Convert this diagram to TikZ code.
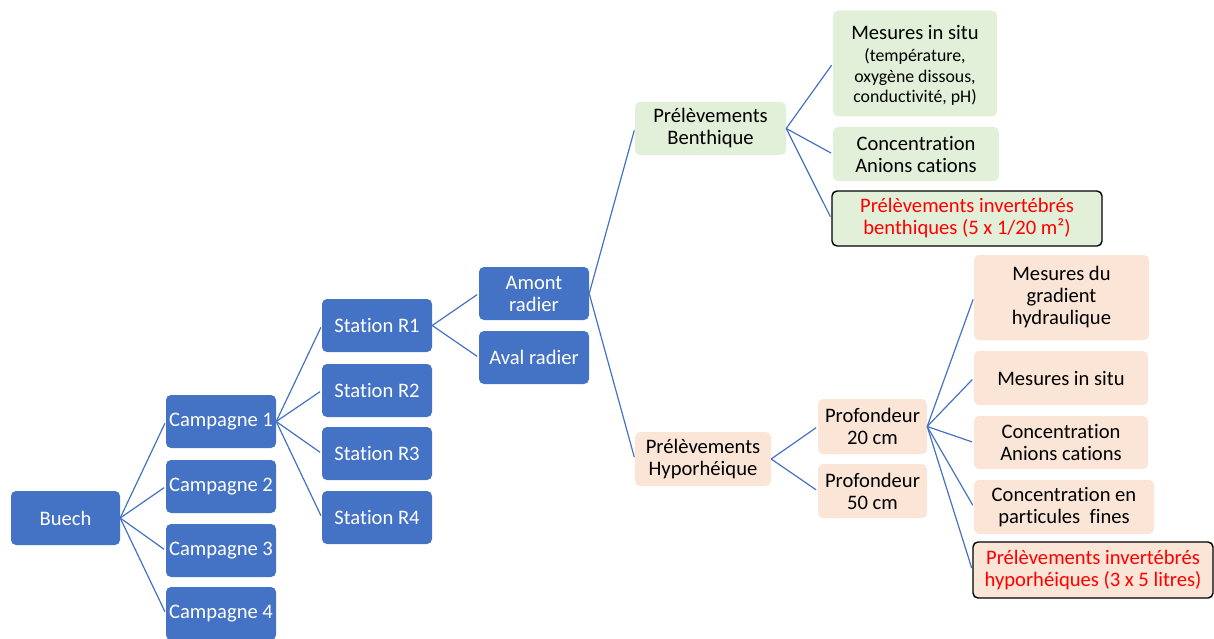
\documentclass[tikz,border=0pt]{standalone}
\usepackage{fontspec}
\setmainfont{Carlito}[Ligatures={NoCommon}]
\definecolor{bluebox}{HTML}{4472C4}
\definecolor{bluelink}{HTML}{4472C4}
\definecolor{greenbox}{HTML}{E2F0D9}
\definecolor{peachbox}{HTML}{FBE5D6}
\definecolor{redtext}{HTML}{FF0000}
\newcommand{\smalltxt}{\fontsize{17.8}{20.5}\selectfont}
\begin{document}
\begin{tikzpicture}[x=1pt,y=-1pt,
  box/.style={rectangle,rounded corners=5pt,inner sep=0pt,align=center,
    font=\fontsize{20.6}{22}\selectfont},
  bluenode/.style={box,fill=bluebox,text=white},
  greennode/.style={box,fill=greenbox,text=black},
  peachnode/.style={box,fill=peachbox,text=black},
  framed/.style={draw=black,line width=1.4pt,text=redtext},
  link/.style={draw=bluelink,line width=1.2pt,shorten >=2pt}]
\useasboundingbox (0,0) rectangle (1214,639);
% level 0
\node[bluenode,minimum width=109pt,minimum height=54pt] (buech) at (65.5,518) {Buech};
% campagnes
\node[bluenode,minimum width=110pt,minimum height=53pt] (c1) at (221,421.5) {Campagne 1};
\node[bluenode,minimum width=110pt,minimum height=53pt] (c2) at (221,486.5) {Campagne 2};
\node[bluenode,minimum width=110pt,minimum height=53pt] (c3) at (221,550.5) {Campagne 3};
\node[bluenode,minimum width=110pt,minimum height=53pt] (c4) at (221,613.5) {Campagne 4};
% stations
\node[bluenode,minimum width=110pt,minimum height=53pt] (s1) at (377,325.5) {Station R1};
\node[bluenode,minimum width=110pt,minimum height=53pt] (s2) at (377,390.5) {Station R2};
\node[bluenode,minimum width=110pt,minimum height=53pt] (s3) at (377,453.5) {Station R3};
\node[bluenode,minimum width=110pt,minimum height=53pt] (s4) at (377,517.5) {Station R4};
% amont / aval
\node[bluenode,minimum width=110pt,minimum height=53pt] (amont) at (534,293.5) {Amont\\radier};
\node[bluenode,minimum width=110pt,minimum height=53pt] (aval) at (534,357.5) {Aval radier};
% benthique
\node[greennode,minimum width=164pt,minimum height=106pt] (mis) at (915,63.5) {};
\node[align=center,inner sep=0pt,font=\fontsize{20.6}{22}\selectfont] (mistxt) at (915,65.5)
  {Mesures in situ\\ \smalltxt (température,\\[-1.5pt] \smalltxt oxygène dissous,\\[-1.5pt] \smalltxt conductivité, pH)};
\node[greennode,minimum width=151pt,minimum height=53pt] (pb) at (710.5,128.5) {Prélèvements\\Benthique};
\node[greennode,minimum width=166pt,minimum height=54pt] (cac) at (916,154) {Concentration\\Anions cations};
\node[greennode,framed,minimum width=270pt,minimum height=55pt] (pib) at (967,218.5) {Prélèvements invertébrés\\benthiques (5 x 1/20 m²)};
% hyporheique
\node[peachnode,minimum width=136pt,minimum height=54pt] (ph) at (703,459) {Prélèvements\\Hyporhéique};
\node[peachnode,minimum width=109pt,minimum height=55pt] (p20) at (872.5,426.5) {Profondeur\\20 cm};
\node[peachnode,minimum width=109pt,minimum height=54pt] (p50) at (872.5,491) {Profondeur\\50 cm};
\node[peachnode,minimum width=175pt,minimum height=85pt] (mgh) at (1061.5,297.5) {Mesures du\\gradient\\hydraulique};
\node[peachnode,minimum width=174pt,minimum height=54pt] (mis2) at (1061,378) {Mesures in situ};
\node[peachnode,minimum width=174pt,minimum height=53pt] (cac2) at (1061,442.5) {Concentration\\Anions cations};
\node[peachnode,minimum width=180pt,minimum height=54pt] (cpf) at (1064,507) {Concentration en\\particules\ \ fines};
\node[peachnode,framed,minimum width=240pt,minimum height=56pt] (pih) at (1093,570) {Prélèvements invertébrés\\hyporhéiques (3 x 5 litres)};
% links
\foreach \t in {c1,c2,c3,c4} \draw[link] (buech.east) -- (\t.west);
\foreach \t in {s1,s2,s3,s4} \draw[link] (c1.east) -- (\t.west);
\foreach \t in {amont,aval} \draw[link] (s1.east) -- (\t.west);
\foreach \t in {pb,ph} \draw[link] (amont.east) -- (\t.west);
\foreach \t in {mis,cac,pib} \draw[link] (pb.east) -- (\t.west);
\foreach \t in {p20,p50} \draw[link] (ph.east) -- (\t.west);
\foreach \t in {mgh,mis2,cac2,cpf,pih} \draw[link] (p20.east) -- (\t.west);
\end{tikzpicture}
\end{document}
